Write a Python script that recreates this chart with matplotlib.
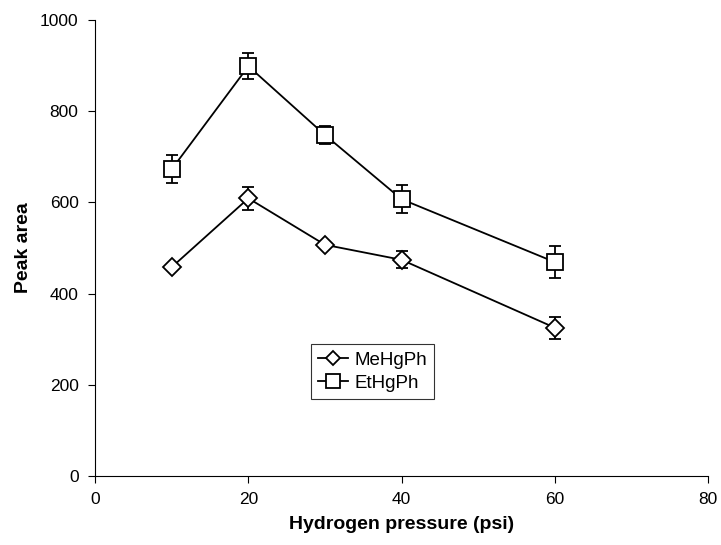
import matplotlib
matplotlib.use('Agg')
import matplotlib.pyplot as plt

plt.rcParams['font.family'] = ['Liberation Sans', 'DejaVu Sans']

pressure = [10, 20, 30, 40, 60]
me_area = [458, 609, 507, 474, 325]
me_err = [0, 25, 0, 19, 24]
et_area = [673, 899, 748, 607, 469]
et_err = [31, 29, 20, 31, 35]

fig = plt.figure(figsize=(7.21, 5.45), dpi=100)
ax = fig.add_axes([0.132, 0.127, 0.850, 0.836])

ax.errorbar(pressure, me_area, yerr=me_err, color='black', lw=1.3,
            marker='D', markersize=9, markerfacecolor='white',
            markeredgecolor='black', markeredgewidth=1.3,
            capsize=4, elinewidth=1.3, capthick=1.3, label='MeHgPh')
ax.errorbar(pressure, et_area, yerr=et_err, color='black', lw=1.3,
            marker='s', markersize=12, markerfacecolor='white',
            markeredgecolor='black', markeredgewidth=1.3,
            capsize=4, elinewidth=1.3, capthick=1.3, label='EtHgPh')

ax.set_xlim(0, 80)
ax.set_ylim(0, 1000)
ax.set_xticks([0, 20, 40, 60, 80])
ax.set_yticks([0, 200, 400, 600, 800, 1000])
ax.spines['top'].set_visible(False)
ax.spines['right'].set_visible(False)
ax.tick_params(direction='out', length=5, labelsize=12.5, pad=7)

ax.set_xlabel('Hydrogen pressure (psi)', fontsize=14, fontweight='bold', labelpad=6)
ax.set_ylabel('Peak area', fontsize=14, fontweight='bold', labelpad=6)

# legend shows marker + line only, no error bars
handles, labels = ax.get_legend_handles_labels()
handles = [h[0] for h in handles]
leg = ax.legend(handles, labels, loc='lower left', bbox_to_anchor=(0.352, 0.168),
                fontsize=13.5, frameon=True, fancybox=False, edgecolor='black',
                handlelength=1.6, handletextpad=0.3, borderpad=0.4,
                labelspacing=0.3, markerscale=0.8, borderaxespad=0)
leg.get_frame().set_linewidth(0.8)

fig.savefig('out.png', dpi=100)
